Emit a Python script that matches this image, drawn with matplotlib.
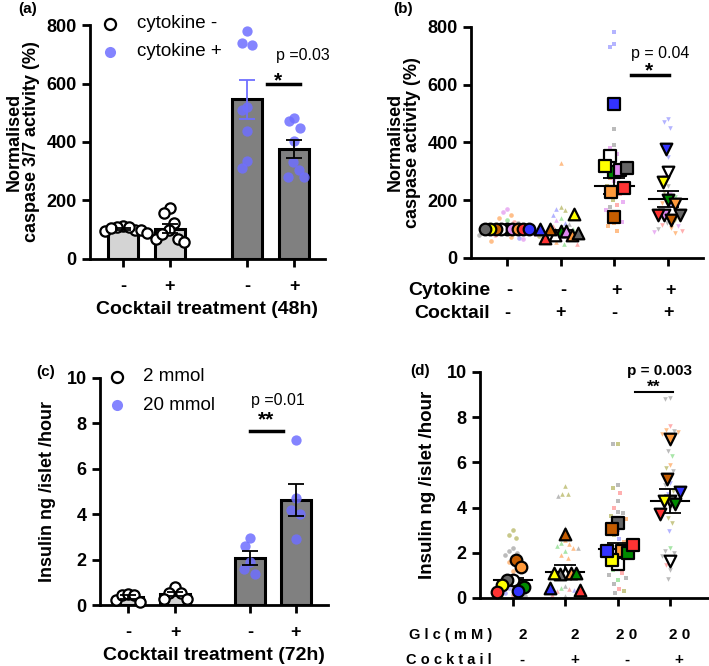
import numpy as np
import matplotlib
matplotlib.use('Agg')
import matplotlib.pyplot as plt
from matplotlib.transforms import blended_transform_factory

plt.rcParams['font.family'] = ['Liberation Sans', 'DejaVu Sans']

W, H = 709, 666

# ---------------- data ----------------
# (a) caspase 3/7, 48h
a_ticks = ['-', '+', '-', '+']
a_cyt_neg_ctl_neg = [100, 112, 95, 108, 110, 100, 90, 105]
a_cyt_neg_ctl_pos = [173, 156, 124, 99, 67, 67, 59, 85]
a_cyt_pos_ctl_neg = [780, 740, 730, 520, 510, 438, 336, 310]
a_cyt_pos_ctl_pos = [483, 473, 449, 404, 331, 304, 282, 279]

# (c) insulin, 72h
c_ticks = ['-', '+', '-', '+']
c_2mm_ctl_neg = [0.2, 0.45, 0.5, 0.45, 0.15]
c_2mm_ctl_pos = [0.8, 0.55, 0.55, 0.25, 0.25]
c_20mm_ctl_neg = [2.97, 2.6, 1.9, 1.6, 1.35]
c_20mm_ctl_pos = [7.28, 4.73, 4.18, 4.03, 2.91]

# (b) superplot, donor means (big) + single wells (small)
b_cytokine = ['-', '-', '+', '+']
b_cocktail = ['-', '+', '-', '+']
b_big_cols = "gwvboyrku"
b_big = [
    [100, 100, 100, 100, 100, 100, 100, 100, 100],
    [93, 80, 93, 100, 80, 152, 69, 87, 100],
    [297, 352, 303, 141, 228, 317, 241, 310, 534],
    [200, 297, 150, 131, 186, 263, 150, 150, 376],
]
b_mean = [100, 88, 250, 205]
b_sem = [0, 8, 28, 28]
b_small = [
    [170, 160, 150, 140, 132, 125, 120, 115, 112, 108, 105, 100, 100, 98, 95, 92,
     90, 88, 85, 82, 80, 78, 75, 72, 70, 65, 60],
    [330, 175, 170, 165, 150, 140, 130, 122, 118, 110, 105, 100, 95, 90, 85, 80,
     75, 70, 65, 60, 55, 50, 48],
    [780, 740, 730, 445, 390, 380, 360, 340, 320, 300, 290, 275, 265, 255, 250, 245,
     240, 230, 220, 210, 200, 195, 185, 175, 165, 155, 145, 140, 125, 120, 110, 95, 50],
    [480, 470, 450, 350, 300, 280, 250, 230, 220, 210, 200, 190, 180, 170, 160, 150,
     140, 130, 120, 115, 110, 105, 100, 95, 90, 88],
]
b_small_cols = [
    "vvoogrkvouygrkvbwogvrkyouvo",
    "oyuyugvukrogvyorgvkrogr",
    "uuukkvvrgvrovkygrvroyvrkvovovooo",
    "uuuugvkyvgroukgovykrvokrvo",
]

# (d) superplot, insulin
d_glc = ['2', '2', '2 0', '2 0']
d_cocktail = ['-', '+', '-', '+']
d_big_cols = "wkboygur"
d_big = [
    [0.78, 0.8, 1.67, 1.35, 0.57, 0.5, 0.33, 0.25],
    [1.12, 1.05, 2.85, 1.12, 1.12, 1.12, 0.45, 0.35],
    [1.5, 3.3, 3.05, 2.1, 1.7, 2.0, 2.1, 2.35],
    [1.65, 4.3, 5.25, 7.05, 4.3, 4.15, 4.7, 3.7],
]
d_mean = [0.8, 1.15, 2.15, 4.3]
d_sem = [0.08, 0.3, 0.3, 0.52]
d_small = [
    [3.0, 2.8, 2.65, 2.2, 2.1, 2.0, 1.9, 1.75, 1.6, 1.2, 0.9, 0.6, 0.45, 0.35, 0.3,
     0.2, 0.15, 0.1],
    [4.95, 4.6, 4.6, 4.5, 3.1, 2.55, 2.45, 2.4, 2.3, 2.2, 2.2, 2.1, 1.9, 1.75, 0.55,
     0.45, 0.4, 0.35, 0.3, 0.2, 0.15, 0.1],
    [6.8, 6.8, 5.0, 4.85, 4.65, 4.3, 4.0, 3.8, 3.75, 3.65, 3.5, 3.0, 2.8, 2.6, 2.5,
     1.3, 1.25, 1.1, 1.0, 0.9, 0.8, 0.6, 0.4, 0.3, 0.2],
    [8.85, 8.8, 7.6, 7.45, 7.4, 7.35, 7.25, 6.9, 6.5, 6.3, 5.9, 5.75, 5.6, 5.1, 5.0,
     4.75, 4.6, 3.95, 3.55, 3.3, 2.95, 2.2, 2.1, 2.0, 1.85, 1.7, 1.45, 1.25, 0.85],
]
d_small_cols = [
    "yyykkkkgookourkurk",
    "yyykkogogokgookgrururkg",
    "ykkyrkrkkyouyuougrkkgkryk",
    "kkrokooykgoykukyukyyugkkkrrkk",
]

# replicate colours
big_c = {'w': '#ffffff', 'k': '#666666', 'v': '#dd88ee', 'b': '#c45c00', 'o': '#ff9a3c',
         'y': '#ffff00', 'g': '#008a00', 'u': '#3333ff', 'r': '#ff3333'}
small_c = {'w': '#dddddd', 'k': '#bbbbbb', 'v': '#eab3f3', 'b': '#e0a070', 'o': '#ffbf8a',
           'y': '#c8c88a', 'g': '#a8e6a8', 'u': '#b4b4ff', 'r': '#ffb0b0'}

LIGHT = '#d4d4d4'
DARK = '#808080'
BLUE = '#6f6fff'
TICK_FS = 13


def px_axes(fig, l, t, r, b):
    return fig.add_axes([l / W, 1 - b / H, (r - l) / W, (b - t) / H])


def style(ax, size=TICK_FS):
    for s in ['top', 'right']:
        ax.spines[s].set_visible(False)
    for s in ['left', 'bottom']:
        ax.spines[s].set_linewidth(2)
    ax.tick_params(width=2, length=6, labelsize=size)
    for lbl in ax.get_yticklabels() + ax.get_xticklabels():
        lbl.set_fontweight('bold')


def swarm(vals, dx0, dy0, ax, order=None):
    # beeswarm-like offsets (data x units); points collide inside an ellipse dx0 x dy0 (pixels)
    bb = ax.get_position()
    wpx, hpx = bb.width * W, bb.height * H
    x0, x1 = ax.get_xlim()
    y0, y1 = ax.get_ylim()
    ypx = np.asarray(vals, float) * hpx / (y1 - y0)
    n = len(ypx)
    xs = np.zeros(n)
    if order is None:
        order = np.argsort(-ypx, kind='stable')
    placed = []
    for i in order:
        iv = []
        for j in placed:
            dy = abs(ypx[i] - ypx[j])
            if dy < dy0:
                h = dx0 * np.sqrt(1 - (dy / dy0) ** 2)
                iv.append((xs[j] - h, xs[j] + h))
        cands = sorted([0.0] + [e for p in iv for e in p], key=abs)
        for c in cands:
            if all(not (a + 1e-6 < c < b - 1e-6) for a, b in iv):
                xs[i] = c
                break
        placed.append(i)
    return xs * (x1 - x0) / wpx


def bar_panel(ax, groups, pos, xlim, ylim, yticks, fills, pt_cols, err_cols):
    ax.set_xlim(*xlim)
    ax.set_ylim(*ylim)
    means = [np.mean(g) for g in groups]
    sems = [np.std(g, ddof=1) / np.sqrt(len(g)) for g in groups]
    ax.bar(pos, means, width=0.64, color=fills, edgecolor='black', linewidth=2.2, zorder=1)
    for p, g, m, s, pc, ec in zip(pos, groups, means, sems, pt_cols, err_cols):
        off = swarm(g, 6, 22, ax)
        if pc == 'white':
            ax.scatter(p + off, g, s=55, facecolor='white', edgecolor='black', linewidth=1.6,
                       zorder=3, clip_on=False)
        else:
            ax.scatter(p + off, g, s=55, color=pc, alpha=0.85, linewidth=0, zorder=3,
                       clip_on=False)
        ax.errorbar([p], [m], yerr=[s], fmt='none', ecolor=ec, elinewidth=1.3, capsize=6,
                    capthick=1.3, zorder=4)
    ax.set_yticks(yticks)
    ax.set_xticks(pos)


def super_panel(ax, big, big_cols, small, small_cols, mean, sem, marks, xlim, ylim, yticks):
    ax.set_xlim(*xlim)
    ax.set_ylim(*ylim)
    for k in range(4):
        p = k + 1
        vals = small[k]
        cols = small_cols[k]
        off = swarm(vals, 4.5, 10, ax)
        for v, o, c in zip(vals, off, cols):
            ax.scatter(p + o, v, s=11, marker=marks[k], color=small_c[c], linewidth=0,
                       zorder=2, clip_on=False)
        ax.plot([p - 0.36, p + 0.36], [mean[k], mean[k]], color='black', lw=1.5, zorder=3)
        if sem[k] > 0:
            ax.errorbar([p], [mean[k]], yerr=[sem[k]], fmt='none', ecolor='black',
                        elinewidth=1.3, capsize=8, capthick=1.3, zorder=3)
        boff = swarm(big[k], 5.5, 24, ax, order=range(len(big[k])))
        for v, o, c in zip(big[k], boff, big_cols):
            ax.scatter(p + o, v, s=70, marker=marks[k], facecolor=big_c[c],
                       edgecolor='black', linewidth=1.6, zorder=4, clip_on=False)
    ax.set_yticks(yticks)
    ax.set_xticks([1, 2, 3, 4])
    ax.set_xticklabels([])


fig = plt.figure(figsize=(W / 100, H / 100), dpi=100)
fx = lambda x: x / W
fy = lambda y: 1 - y / H

# ---------- (a) ----------
ax_a = px_axes(fig, 90, 25, 325, 259)
pos_a = [1, 2, 3.65, 4.65]
bar_panel(ax_a, [a_cyt_neg_ctl_neg, a_cyt_neg_ctl_pos, a_cyt_pos_ctl_neg, a_cyt_pos_ctl_pos],
          pos_a, (0.3, 5.3), (0, 800), [0, 200, 400, 600, 800], [LIGHT, LIGHT, DARK, DARK],
          ['white', 'white', BLUE, BLUE], ['black', 'black', BLUE, 'black'])
ax_a.set_xticklabels(a_ticks)
ax_a.tick_params(axis='x', pad=8)
style(ax_a)
ax_a.set_ylabel('Normalised\ncaspase 3/7 activity (%)', fontsize=13, fontweight='bold',
                labelpad=5, linespacing=1.0)
ax_a.set_xlabel('Cocktail treatment (48h)', fontsize=14, fontweight='bold', labelpad=4)
ax_a.plot([4.06, 4.77], [597, 597], color='black', lw=2.5, clip_on=False)
ax_a.text(4.3, 575, '*', ha='center', va='bottom', fontsize=15, fontweight='bold')
ax_a.text(4.82, 670, 'p =0.03', ha='center', va='bottom', fontsize=11.5)
fig.text(fx(18), fy(9), '(a)', fontsize=11, fontweight='bold', va='center')
fig.lines.append(plt.Line2D([fx(110)], [fy(24)], marker='o', ms=8, mfc='white', mec='black',
                            mew=1.6, transform=fig.transFigure))
fig.lines.append(plt.Line2D([fx(110)], [fy(52)], marker='o', ms=8, mfc=BLUE, mec=BLUE, alpha=0.85,
                            mew=0, transform=fig.transFigure))
fig.text(fx(137), fy(24), 'cytokine -', fontsize=13.5, va='center')
fig.text(fx(137), fy(52), 'cytokine +', fontsize=13.5, va='center')

# ---------- (c) ----------
ax_c = px_axes(fig, 100, 378, 328, 605)
pos_c = [1, 2, 3.6, 4.57]
bar_panel(ax_c, [c_2mm_ctl_neg, c_2mm_ctl_pos, c_20mm_ctl_neg, c_20mm_ctl_pos],
          pos_c, (0.4, 5.26), (0, 10), [0, 2, 4, 6, 8, 10], [LIGHT, LIGHT, DARK, DARK],
          ['white', 'white', BLUE, BLUE], ['black', 'black', 'black', 'black'])
ax_c.set_xticklabels(c_ticks)
ax_c.tick_params(axis='x', pad=8)
style(ax_c)
ax_c.set_ylabel('Insulin ng /islet /hour', fontsize=13, fontweight='bold', labelpad=8)
ax_c.set_xlabel('Cocktail treatment (72h)', fontsize=14, fontweight='bold', labelpad=4)
ax_c.plot([3.59, 4.3], [7.65, 7.65], color='black', lw=2.5)
ax_c.text(3.93, 7.75, '**', ha='center', va='bottom', fontsize=15, fontweight='bold')
ax_c.text(4.2, 8.7, 'p =0.01', ha='center', va='bottom', fontsize=11.5)
fig.text(fx(36), fy(372), '(c)', fontsize=11, fontweight='bold', va='center')
fig.lines.append(plt.Line2D([fx(117)], [fy(377)], marker='o', ms=8, mfc='white', mec='black',
                            mew=1.6, transform=fig.transFigure))
fig.lines.append(plt.Line2D([fx(117)], [fy(405)], marker='o', ms=8, mfc=BLUE, mec=BLUE, alpha=0.85,
                            mew=0, transform=fig.transFigure))
fig.text(fx(143), fy(377), '2 mmol', fontsize=13.5, va='center')
fig.text(fx(143), fy(405), '20 mmol', fontsize=13.5, va='center')

# ---------- (b) ----------
ax_b = px_axes(fig, 471, 26.7, 703, 258)
super_panel(ax_b, b_big, b_big_cols, b_small, b_small_cols, b_mean, b_sem,
            ['o', '^', 's', 'v'], (0.33, 4.65), (0, 800), [0, 200, 400, 600, 800])
style(ax_b)
ax_b.set_ylabel('Normalised\ncaspase activity (%)', fontsize=13, fontweight='bold',
                labelpad=5, linespacing=1.0)
ax_b.plot([3.3, 4.02], [634, 634], color='black', lw=2.5, clip_on=False)
ax_b.text(3.65, 615, '*', ha='center', va='bottom', fontsize=15, fontweight='bold')
ax_b.text(3.85, 680, 'p = 0.04', ha='center', va='bottom', fontsize=11.5)
fig.text(fx(393), fy(9), '(b)', fontsize=11, fontweight='bold', va='center')
tb = blended_transform_factory(ax_b.transData, fig.transFigure)
fig.text(fx(490), fy(290), 'Cytokine', fontsize=14, fontweight='bold', ha='right', va='center')
fig.text(fx(490), fy(313), 'Cocktail', fontsize=14, fontweight='bold', ha='right', va='center')
for i in range(4):
    ax_b.text(i + 1.04, fy(290), b_cytokine[i], transform=tb, ha='center', va='center',
              fontsize=13, fontweight='bold')
    ax_b.text(i + 1.0, fy(313), b_cocktail[i], transform=tb, ha='center', va='center',
              fontsize=13, fontweight='bold')

# ---------- (d) ----------
ax_d = px_axes(fig, 480, 372, 708, 598)
super_panel(ax_d, d_big, d_big_cols, d_small, d_small_cols, d_mean, d_sem,
            ['o', '^', 's', 'v'], (0.37, 4.73), (0, 10), [0, 2, 4, 6, 8, 10])
style(ax_d)
ax_d.set_ylabel('Insulin ng /islet /hour', fontsize=13.5, fontweight='bold', labelpad=8)
ax_d.plot([3.34, 4.06], [9.1, 9.1], color='black', lw=1.5, clip_on=False)
ax_d.text(3.7, 9.0, '**', ha='center', va='bottom', fontsize=12.5, fontweight='bold')
ax_d.text(3.8, 9.75, 'p = 0.003', ha='center', va='bottom', fontsize=11, fontweight='bold')
fig.text(fx(410), fy(371), '(d)', fontsize=11, fontweight='bold', va='center')
td = blended_transform_factory(ax_d.transData, fig.transFigure)
fig.text(fx(492), fy(635), 'G l c ( m M )', fontsize=10.5, fontweight='bold', ha='right',
         va='center')
fig.text(fx(492), fy(660), 'C o c k t a i l', fontsize=10.5, fontweight='bold', ha='right',
         va='center')
for i in range(4):
    ax_d.text(i + 1.18, fy(635), d_glc[i], transform=td, ha='center', va='center',
              fontsize=11, fontweight='bold')
    ax_d.text(i + 1.18, fy(660), d_cocktail[i], transform=td, ha='center', va='center',
              fontsize=11, fontweight='bold')

fig.savefig('out.png', dpi=100)
